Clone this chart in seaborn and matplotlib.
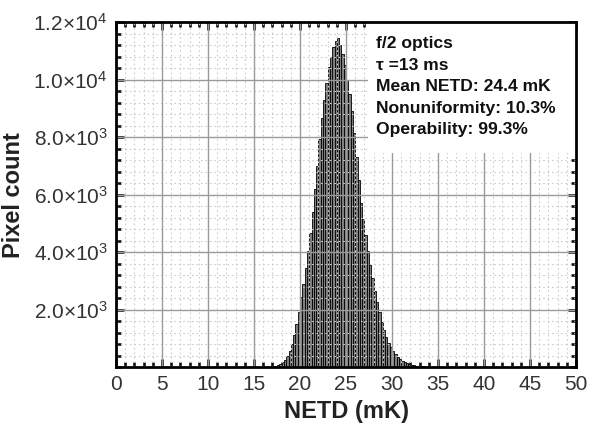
import numpy as np
import pandas as pd
import seaborn as sns
import matplotlib.pyplot as plt
from matplotlib.ticker import MultipleLocator, FixedLocator, FixedFormatter

# histogram: bins of 0.25 mK from 16.5 to 36.0 mK
bin_edges = np.arange(16.5, 36.0 + 0.001, 0.25)
counts = [5, 10, 20, 35, 60, 100, 160, 250, 370, 560,
          800, 1120, 1480, 1900, 2420, 2900, 3450, 4020, 4680, 5400,
          6200, 7000, 7950, 8650, 9300, 9900, 10450, 10800, 11150, 11350,
          11450, 11200, 10900, 10500, 10000, 9500, 8900, 8150, 7300, 6500,
          5700, 5150, 4600, 4050, 3550, 3100, 2650, 2250, 1900, 1550,
          1280, 1040, 850, 700, 570, 460, 360, 280, 220, 170,
          130, 100, 75, 55, 40, 30, 25, 20, 15, 12,
          10, 8, 6, 5, 4, 3, 2, 1]
bin_centers = (bin_edges[:-1] + bin_edges[1:]) / 2

y_ticks = [2000, 4000, 6000, 8000, 10000, 12000]
y_labels = [r"$2.0{\times}10^{3}$", r"$4.0{\times}10^{3}$", r"$6.0{\times}10^{3}$",
            r"$8.0{\times}10^{3}$", r"$1.0{\times}10^{4}$", r"$1.2{\times}10^{4}$"]
info_lines = ["f/2 optics", "\u03c4 =13 ms", "Mean NETD: 24.4 mK",
              "Nonuniformity: 10.3%", "Operability: 99.3%"]

df = pd.DataFrame({"netd": bin_centers, "count": counts})

sns.set_style("ticks")
plt.rcParams['font.family'] = ['Liberation Sans', 'DejaVu Sans']
plt.rcParams['mathtext.fontset'] = 'custom'
plt.rcParams['mathtext.rm'] = 'Liberation Sans'
plt.rcParams['mathtext.it'] = 'Liberation Sans:italic'
plt.rcParams['mathtext.bf'] = 'Liberation Sans:bold'

fig = plt.figure(figsize=(5.92, 4.26), dpi=100)
ax = fig.add_axes([0.196, 0.1385, 0.777, 0.8095])

sns.histplot(data=df, x="netd", weights="count", bins=list(bin_edges), ax=ax,
             color="#7e7e7e", edgecolor="black", linewidth=0.6, alpha=1.0,
             zorder=1)

ax.set_xlim(0, 50)
ax.set_ylim(0, 12000)

# grid drawn by hand so the info box can sit over it
for xv in np.arange(1, 50, 1):
    if xv % 5:
        ax.axvline(xv, color="#cdcdcd", lw=0.8, ls=(0, (1.5, 2.5)), zorder=1.5)
    else:
        ax.axvline(xv, color="#9a9a9a", lw=1.0, zorder=1.6)
for yv in np.arange(400, 12000, 400):
    if yv % 2000:
        ax.axhline(yv, color="#cdcdcd", lw=0.8, ls=(0, (1.5, 2.5)), zorder=1.5)
    else:
        ax.axhline(yv, color="#9a9a9a", lw=1.0, zorder=1.6)

ax.add_patch(plt.Rectangle((0.547, 0.62), 0.453, 0.38, transform=ax.transAxes,
                           facecolor="white", edgecolor="none", zorder=2))
ax.text(0.565, 0.96, "\n".join(info_lines), transform=ax.transAxes,
        fontsize=12.6, fontweight="bold", va="top", ha="left",
        linespacing=1.55, color="#111111", zorder=3)

ax.xaxis.set_major_locator(MultipleLocator(5))
ax.xaxis.set_minor_locator(MultipleLocator(1))
ax.yaxis.set_major_locator(FixedLocator(y_ticks))
ax.yaxis.set_major_formatter(FixedFormatter(y_labels))
ax.yaxis.set_minor_locator(MultipleLocator(400))

ax.tick_params(which="both", direction="in", top=True, right=True,
               width=1.8, color="black", labelcolor="#333333")
ax.tick_params(which="major", length=6, labelsize=15, pad=6)
ax.tick_params(which="minor", length=3.5)
for s in ax.spines.values():
    s.set_visible(True)
    s.set_linewidth(2)
    s.set_color("black")
    s.set_zorder(4)

ax.set_xlabel("NETD (mK)", fontsize=17, fontweight="bold", color="#222222", labelpad=4)
ax.set_ylabel("Pixel count", fontsize=17, fontweight="bold", color="#222222", labelpad=6)

fig.savefig("out.png", dpi=100)
